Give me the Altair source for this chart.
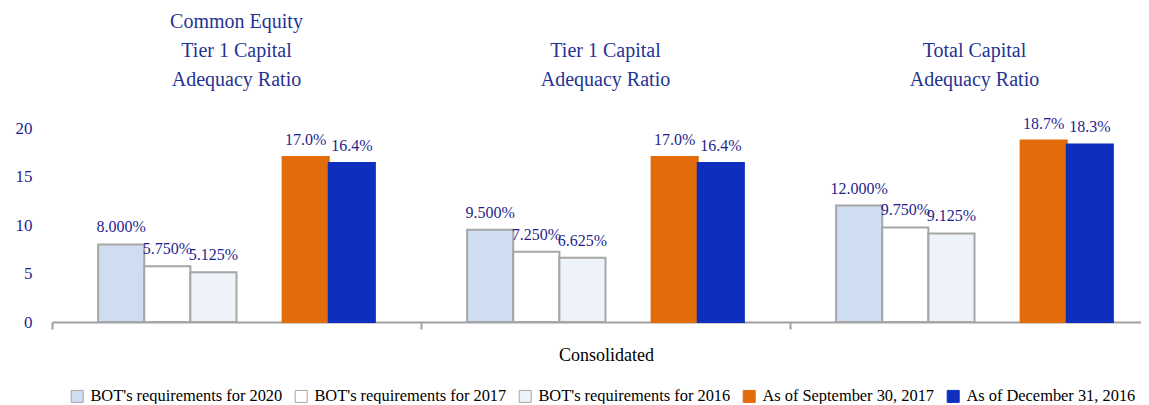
import altair as alt
import pandas as pd

groups = [
    "Common Equity|Tier 1 Capital|Adequacy Ratio",
    "Tier 1 Capital|Adequacy Ratio",
    "Total Capital|Adequacy Ratio",
]
series = [
    "BOT's requirements for 2020",
    "BOT's requirements for 2017",
    "BOT's requirements for 2016",
    "As of September 30, 2017",
    "As of December 31, 2016",
]
req_2020 = [8.000, 9.500, 12.000]
req_2017 = [5.750, 7.250, 9.750]
req_2016 = [5.125, 6.625, 9.125]
sep_2017 = [17.0, 17.0, 18.7]
dec_2016 = [16.4, 16.4, 18.3]
decimals = [3, 3, 3, 1, 1]
y_ticks = [0, 5, 10, 15, 20]
axis_title = "Consolidated"

fills = ["#cfddf0", "#ffffff", "#eef3fa", "#e36c0a", "#0e2fbd"]
strokes = ["#a6a6a6", "#a6a6a6", "#a6a6a6", "#e36c0a", "#0e2fbd"]

columns = [req_2020, req_2017, req_2016, sep_2017, dec_2016]
rows = []
for gi, g in enumerate(groups):
    for si, s in enumerate(series):
        v = columns[si][gi]
        rows.append({"group": g, "series": s, "value": v,
                     "label": f"{v:.{decimals[si]}f}%"})
df = pd.DataFrame(rows)

offset_domain = series[:3] + ["(gap)"] + series[3:]

SERIF = "Liberation Serif"
NAVY = "#1f1f8f"
TITLE_BLUE = "#1f3494"

# the category axis runs past the right edge of the window, as in the reference
x_scale = alt.Scale(paddingInner=0, paddingOuter=0, range=[0, 1107])
y_scale = alt.Scale(domain=[0, 20])
y_axis = alt.Axis(values=y_ticks, title=None, grid=False, domain=False, ticks=False,
                  labelFont=SERIF, labelFontSize=17, labelColor=NAVY, labelPadding=20)
xoff = alt.XOffset("series:N", scale=alt.Scale(domain=offset_domain, paddingInner=0, paddingOuter=1))

legend = alt.Legend(title=None, orient="none", legendX=17, legendY=260,
                    direction="horizontal", symbolType="square", symbolSize=144,
                    symbolStrokeWidth=1, labelFont=SERIF, labelFontSize=16.4,
                    labelColor="#000000", labelOffset=5, columnPadding=10,
                    labelLimit=0)

base = alt.Chart(df)

bars = base.mark_bar(strokeWidth=2).encode(
    x=alt.X("group:N", sort=groups, scale=x_scale,
            axis=alt.Axis(title=axis_title, labels=False, bandPosition=0,
                          tickSize=7, tickColor="#a0a0a0", tickWidth=2,
                          domainColor="#a0a0a0", domainWidth=2,
                          titleFont=SERIF, titleFontSize=18, titleFontWeight="normal",
                          titleColor="#000000", titlePadding=16, titleX=554)),
    xOffset=xoff,
    y=alt.Y("value:Q", scale=y_scale, axis=y_axis),
    fill=alt.Fill("series:N", scale=alt.Scale(domain=series, range=fills), legend=legend),
    stroke=alt.Stroke("series:N", scale=alt.Scale(domain=series, range=strokes), legend=legend),
)

labels = base.mark_text(dy=-12, baseline="alphabetic", font=SERIF, fontSize=16, color=NAVY).encode(
    x=alt.X("group:N", sort=groups, scale=x_scale,
            axis=alt.Axis(orient="top", title=None, domain=False, ticks=False,
                          labelExpr="split(length(split(datum.label, '|')) < 3 ? '|' + datum.label : datum.label, '|')",
                          labelFont=SERIF, labelBaseline="alphabetic",
                          labelFontSize=20, labelLineHeight=29, labelPadding=101,
                          labelColor=TITLE_BLUE, labelLimit=0, labelAngle=0)),
    xOffset=xoff,
    y=alt.Y("value:Q", scale=y_scale, axis=y_axis),
    text="label:N",
)

chart = alt.layer(bars, labels).resolve_axis(x="independent", y="shared").properties(
    width=1089, height=194,
    autosize=alt.AutoSizeParams(type="none"),
    padding={"left": 44, "top": 120, "right": 0, "bottom": 82},
).configure_view(stroke=None)

chart.save("out.html", embed_options={"renderer": "svg", "actions": False})
